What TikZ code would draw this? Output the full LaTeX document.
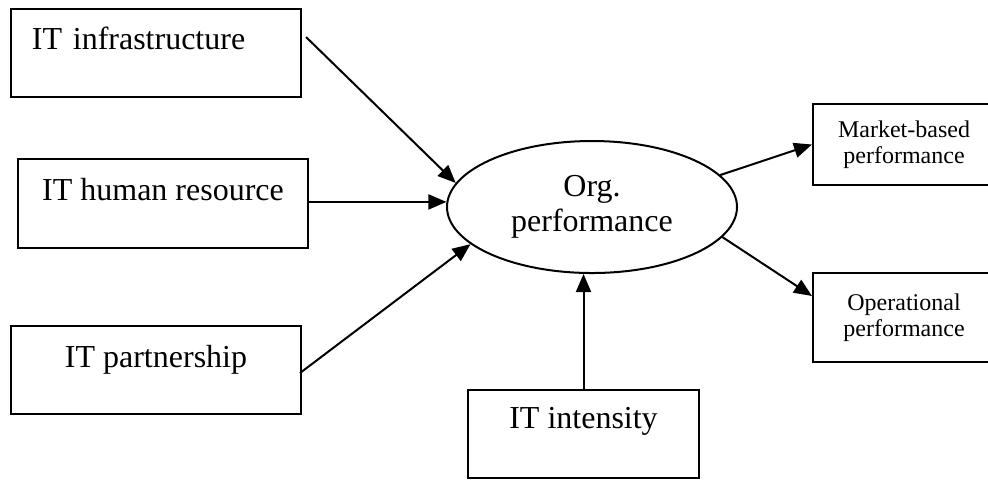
\documentclass[tikz,border=0pt]{standalone}
\usepackage{fontspec}
\setmainfont{Liberation Serif}
\usetikzlibrary{arrows.meta,shapes.geometric,calc}
\begin{document}
\begin{tikzpicture}[x=0.5pt,y=-0.5pt,
  big/.style={font=\fontsize{16}{17.5}\selectfont},
  small/.style={font=\fontsize{12}{13}\selectfont},
  box/.style={draw,line width=1pt,rectangle,inner sep=0pt},
  arr/.style={line width=1pt,-{Triangle[length=9pt,width=7.5pt]}},
]
\useasboundingbox (0,0) rectangle (988,479);

% resource boxes on the left and below
\node[box,big,text height=20pt,text depth=24pt,inner xsep=10.5pt,text width=124pt,align=left]
  (infra) at (156,53) {IT infrastructure};
\node[box,big,text height=20.5pt,text depth=24pt,minimum width=145pt]
  (human) at (163,203.5) {IT human resource};
\node[box,big,text height=20.5pt,text depth=23.5pt,minimum width=145pt]
  (partner) at (156,370) {IT partnership};
\node[box,big,text height=19pt,text depth=25pt,minimum width=115.5pt]
  (intens) at (583.5,434) {IT intensity};

% central construct
\node[draw,line width=1pt,ellipse,inner sep=0pt,minimum width=145pt,minimum height=66pt,big,align=center]
  (org) at (592,207) {Org.\\performance};

% outcome boxes on the right
\node[box,small,align=center,minimum width=91pt,minimum height=40.5pt]
  (market) at (904,144.5) {Market-based\\performance};
\node[box,small,align=center,minimum width=91pt,minimum height=44.5pt]
  (oper) at (904,317.5) {Operational\\performance};

% paths
\draw[arr] ($(infra.north east)+(4,29)$) -- (org.170);
\draw[arr] (human.east |- org.178) -- (org.178);
\draw[arr] ($(partner.east)+(-2,3)$) -- (org.197);
\draw[arr] (intens.north) -- (intens.north |- org.south);
\draw[arr] (org.14) -- (market.west);
\draw[arr] (org.-13) -- ($(oper.north west)+(0,24)$);
\end{tikzpicture}
\end{document}
